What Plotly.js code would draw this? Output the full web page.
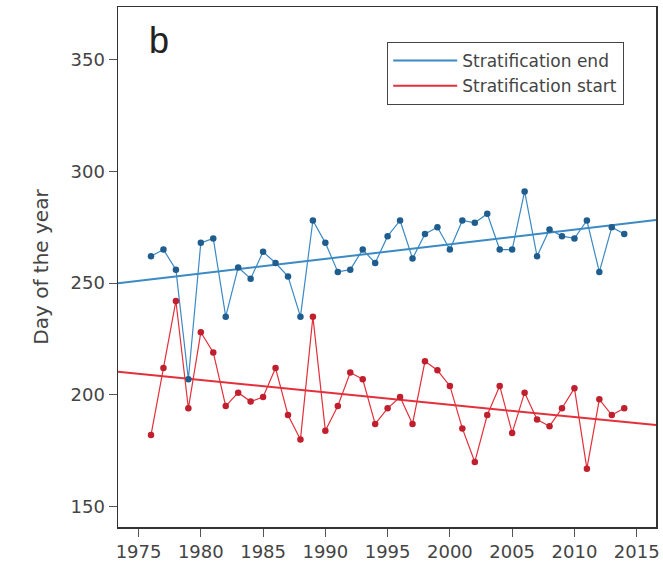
<!DOCTYPE html>
<html>
<head>
<meta charset="utf-8">
<script src="https://cdn.plot.ly/plotly-3.0.1.min.js"></script>
<style>
html,body{margin:0;padding:0;background:#fff;}
#chart{width:663px;height:564px;}
</style>
</head>
<body>
<div id="chart"></div>
<script>
const years = [1976,1977,1978,1979,1980,1981,1982,1983,1984,1985,1986,1987,1988,1989,1990,1991,1992,1993,1994,1995,1996,1997,1998,1999,2000,2001,2002,2003,2004,2005,2006,2007,2008,2009,2010,2011,2012,2013,2014];
const stratEnd = [262,265,256,207,268,270,235,257,252,264,259,253,235,278,268,255,256,265,259,271,278,261,272,275,265,278,277,281,265,265,291,262,274,271,270,278,255,275,272];
const stratStart = [182,212,242,194,228,219,195,201,197,199,212,191,180,235,184,195,210,207,187,194,199,187,215,211,204,185,170,191,204,183,201,189,186,194,203,167,198,191,194];
const seriesNames = ["Stratification end","Stratification start"];
const xTicks = [1975,1980,1985,1990,1995,2000,2005,2010,2015];
const yTicks = [150,200,250,300,350];
const panelLabel = "b";
const yTitle = "Day of the year";

const xRange = [1973.35, 2016.55];
const yRange = [140.9, 373.5];

function fit(xs, ys){
  const n = xs.length;
  const mx = xs.reduce((a,b)=>a+b,0)/n;
  const my = ys.reduce((a,b)=>a+b,0)/n;
  let sxy=0, sxx=0;
  for(let i=0;i<n;i++){ sxy+=(xs[i]-mx)*(ys[i]-my); sxx+=(xs[i]-mx)**2; }
  const b = sxy/sxx, a = my - b*mx;
  return xRange.map(x => a + b*x);
}

const blueLine = '#3b8ac4', blueMark = '#1f5d8f';
const redLine = '#e3303b', redMark = '#c01f2e';
const font = 'DejaVu Sans, Verdana, sans-serif';
const font2 = 'Liberation Sans, Arial, Helvetica, sans-serif';

const traces = [
  {x: xRange, y: fit(years, stratEnd), mode:'lines', name: seriesNames[0],
   line:{color:blueLine, width:2}, hoverinfo:'skip'},
  {x: xRange, y: fit(years, stratStart), mode:'lines', name: seriesNames[1],
   line:{color:redLine, width:2}, hoverinfo:'skip'},
  {x: years, y: stratEnd, mode:'lines+markers', showlegend:false,
   line:{color:blueLine, width:1.2}, marker:{color:blueMark, size:6.5}},
  {x: years, y: stratStart, mode:'lines+markers', showlegend:false,
   line:{color:redLine, width:1.2}, marker:{color:redMark, size:6.5}}
];

const layout = {
  width:663, height:564,
  margin:{l:118, r:7, t:7, b:37},
  paper_bgcolor:'#fff', plot_bgcolor:'#fff',
  font:{family:font, size:18, color:'#444'},
  showlegend:true,
  legend:{x:0.5, y:0.933, xanchor:'left', yanchor:'top',
    bordercolor:'#444', borderwidth:1.2, bgcolor:'#fff', itemwidth:64,
    font:{family:font, size:17, color:'#444'}, traceorder:'normal'},
  xaxis:{range:xRange, tickvals:xTicks, ticks:'outside', ticklen:8, tickcolor:'#555',
    showline:true, mirror:true, linecolor:'#333', linewidth:1.5,
    showgrid:false, zeroline:false, tickfont:{family:font, size:18, color:'#444'}},
  yaxis:{range:yRange, tickvals:yTicks, ticks:'outside', ticklen:8, tickcolor:'#555',
    showline:true, mirror:true, linecolor:'#333', linewidth:1.5,
    showgrid:false, zeroline:false, tickfont:{family:font, size:18, color:'#444'},
    title:{text:yTitle, font:{family:font, size:20, color:'#444'}, standoff:16}},
  annotations:[{text:panelLabel, xref:'paper', yref:'paper', x:0.076, y:0.935,
    xanchor:'center', yanchor:'middle', showarrow:false, font:{size:36, color:'#222', family:font2}}]
};

Plotly.newPlot('chart', traces, layout, {displayModeBar:false, staticPlot:true});
</script>
</body>
</html>
